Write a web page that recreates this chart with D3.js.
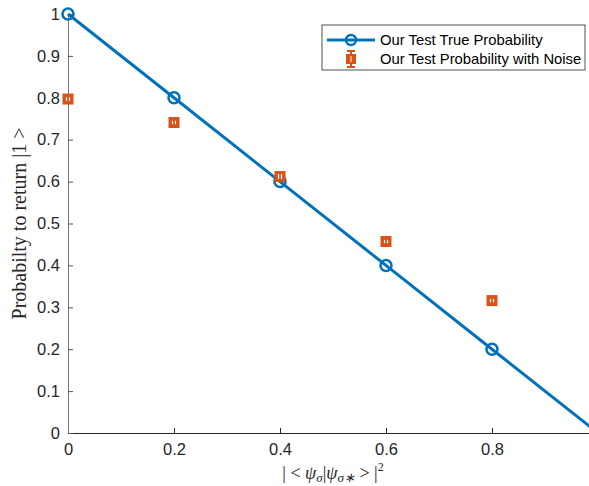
<!DOCTYPE html>
<html>
<head>
<meta charset="utf-8">
<script src="https://cdn.jsdelivr.net/npm/d3@7"></script>
<style>
  body { margin: 0; background: #fff; }
  svg { display: block; }
  .tick text { font-family: "Liberation Sans", Arial, sans-serif; font-size: 16.5px; fill: #262626; }
</style>
</head>
<body>
<div id="wrapper"></div>
<script>
// data
const overlap = [0, 0.2, 0.4, 0.6, 0.8, 1];
const trueProb = [1, 0.8, 0.6, 0.4, 0.2, 0];
const noiseX = [0, 0.2, 0.4, 0.6, 0.8];
const noiseProb = [0.797, 0.741, 0.612, 0.457, 0.316];
const noiseErr = [0.004, 0.004, 0.006, 0.004, 0.004];
const xTicks = [0, 0.2, 0.4, 0.6, 0.8];
const yTicks = [0, 0.1, 0.2, 0.3, 0.4, 0.5, 0.6, 0.7, 0.8, 0.9, 1];
const legendLabels = ["Our Test True Probability", "Our Test Probability with Noise"];

const blue = "#0072BD";
const orange = "#D95319";

function build() {
    const dimension = {
        width: 589,
        height: 486,
        margin: { top: 14, right: 0, bottom: 53, left: 68 }
    };
    // the axes run to x=1, a bit past the right edge of the picture
    const plotW = 530;
    const plotH = dimension.height - dimension.margin.top - dimension.margin.bottom;

    const x = d3.scaleLinear().domain([0, 1]).range([0, plotW]);
    const y = d3.scaleLinear().domain([0, 1]).range([plotH, 0]);

    const svg = d3.select("#wrapper")
        .append("svg")
        .attr("width", dimension.width)
        .attr("height", dimension.height);

    const bounds = svg.append("g")
        .attr("transform", `translate(${dimension.margin.left},${dimension.margin.top})`);

    // axes (ticks point inward, MATLAB style)
    const xAxis = bounds.append("g")
        .attr("transform", `translate(0,${plotH})`)
        .call(d3.axisBottom(x).tickValues(xTicks).tickFormat(d3.format("~g"))
            .tickSizeInner(-5).tickSizeOuter(0).tickPadding(10));
    const yAxis = bounds.append("g")
        .call(d3.axisLeft(y).tickValues(yTicks).tickFormat(d3.format("~g"))
            .tickSizeInner(-5).tickSizeOuter(0).tickPadding(8));
    xAxis.select(".domain").attr("stroke", "#262626");
    yAxis.select(".domain").attr("stroke", "#7a7a7a");
    xAxis.selectAll(".tick line").attr("stroke", "#262626");
    yAxis.selectAll(".tick line").attr("stroke", "#555");

    // true probability line
    const pts = overlap.map((v, i) => ({ x: v, y: trueProb[i] }));
    bounds.append("path")
        .datum(pts)
        .attr("fill", "none")
        .attr("stroke", blue)
        .attr("stroke-width", 3)
        .attr("d", d3.line().x(d => x(d.x)).y(d => y(d.y)));
    bounds.selectAll("circle.truth")
        .data(pts)
        .enter()
        .append("circle")
        .attr("class", "truth")
        .attr("cx", d => x(d.x))
        .attr("cy", d => y(d.y))
        .attr("r", 5.5)
        .attr("fill", "none")
        .attr("stroke", blue)
        .attr("stroke-width", 2.5);

    // noisy points with error bars
    const noisy = noiseX.map((v, i) => ({ x: v, y: noiseProb[i], e: noiseErr[i] }));
    const g = bounds.selectAll("g.noise")
        .data(noisy)
        .enter()
        .append("g")
        .attr("class", "noise")
        .attr("transform", d => `translate(${x(d.x)},${y(d.y)})`);
    g.append("rect")
        .attr("x", -5.5).attr("y", -5.5)
        .attr("width", 11).attr("height", 11)
        .attr("fill", orange);
    g.append("line")
        .attr("x1", -1.5).attr("x2", -1.5)
        .attr("y1", d => y(d.y + d.e) - y(d.y)).attr("y2", d => y(d.y - d.e) - y(d.y))
        .attr("stroke", "#fff").attr("stroke-width", 1.2);
    g.append("line")
        .attr("x1", 1.5).attr("x2", 1.5)
        .attr("y1", d => y(d.y + d.e) - y(d.y)).attr("y2", d => y(d.y - d.e) - y(d.y))
        .attr("stroke", "#fff").attr("stroke-width", 1.2);

    // axis labels
    svg.append("text")
        .attr("transform", `translate(21,${dimension.margin.top + plotH / 2}) rotate(-90)`)
        .attr("text-anchor", "middle")
        .attr("dominant-baseline", "middle")
        .style("font-family", "'Liberation Serif', 'Times New Roman', serif")
        .style("font-size", "20px")
        .attr("fill", "#262626")
        .text("Probabilty to return |1 >");

    const xl = svg.append("text")
        .attr("x", dimension.margin.left + plotW / 2)
        .attr("y", 479)
        .attr("text-anchor", "middle")
        .style("font-family", "'Liberation Serif', 'Times New Roman', serif")
        .style("font-size", "18px")
        .attr("fill", "#262626");
    xl.append("tspan").text("| < ");
    xl.append("tspan").style("font-style", "italic").text("ψ");
    xl.append("tspan").style("font-style", "italic").style("font-size", "13px").attr("dy", 3).text("σ");
    xl.append("tspan").attr("dy", -3).text("|");
    xl.append("tspan").style("font-style", "italic").text("ψ");
    xl.append("tspan").style("font-style", "italic").style("font-size", "13px").attr("dy", 3).text("σ∗");
    xl.append("tspan").attr("dy", -3).text(" > |");
    xl.append("tspan").style("font-size", "12px").attr("dy", -8).text("2");

    // legend
    const legend = svg.append("g").attr("transform", "translate(322,25)");
    legend.append("rect")
        .attr("width", 263).attr("height", 45)
        .attr("fill", "#fff")
        .attr("stroke", "#262626")
        .attr("stroke-width", 0.8);
    const rows = legend.selectAll("g.row")
        .data(legendLabels)
        .enter()
        .append("g")
        .attr("class", "row")
        .attr("transform", (d, i) => `translate(0,${15 + i * 19})`);
    rows.append("text")
        .attr("x", 58)
        .attr("dy", "0.35em")
        .style("font-family", "'Liberation Sans', Arial, sans-serif")
        .style("font-size", "14.8px")
        .attr("fill", "#000")
        .text(d => d);
    const r0 = d3.select(rows.nodes()[0]);
    r0.append("line").attr("x1", 5).attr("x2", 53)
        .attr("stroke", blue).attr("stroke-width", 3);
    r0.append("circle").attr("cx", 29).attr("r", 5)
        .attr("fill", "none").attr("stroke", blue).attr("stroke-width", 2.5);
    const r1 = d3.select(rows.nodes()[1]);
    r1.append("line").attr("x1", 29).attr("x2", 29).attr("y1", -8).attr("y2", 8)
        .attr("stroke", orange).attr("stroke-width", 2);
    r1.append("line").attr("x1", 25).attr("x2", 33).attr("y1", -8).attr("y2", -8)
        .attr("stroke", orange).attr("stroke-width", 2);
    r1.append("line").attr("x1", 25).attr("x2", 33).attr("y1", 8).attr("y2", 8)
        .attr("stroke", orange).attr("stroke-width", 2);
    r1.append("rect").attr("x", 24).attr("y", -5).attr("width", 10).attr("height", 10)
        .attr("fill", orange);
    r1.append("line").attr("x1", 29).attr("x2", 29).attr("y1", -3).attr("y2", 3)
        .attr("stroke", "#fff").attr("stroke-width", 1);
}

build();
</script>
</body>
</html>
